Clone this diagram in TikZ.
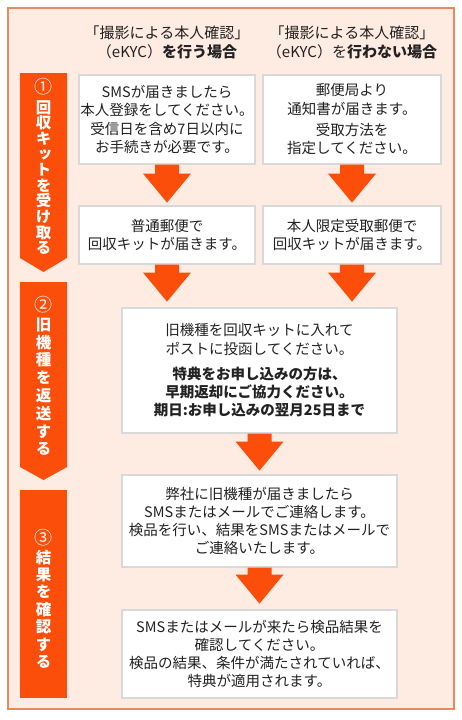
\documentclass[tikz,border=0pt]{standalone}
\usepackage{fontspec}
\usetikzlibrary{calc}
\setmainfont{Noto Sans CJK JP}
\newfontfamily\barfont{Noto Sans CJK JP}[RawFeature={+vert}]
\definecolor{accent}{HTML}{FA4E0A}
\definecolor{framec}{HTML}{E98A5E}
\definecolor{framebg}{HTML}{FEEBE2}
\definecolor{boxgray}{HTML}{D9D9D9}
\definecolor{txt}{HTML}{222222}
\newcommand\bodyfont{\fontsize{14.5}{18.3}\selectfont}
\newcommand\headfont{\fontsize{15}{19}\selectfont}
\newcommand\stepnum[1]{{\mdseries\fontsize{18}{18}\selectfont #1}}
\newcommand\blockarrow[2]{%
  \fill[accent] ($(#1)+(-12,0)$) -- ($(#1)+(12,0)$) -- ($(#2)+(12,-29)$) -- ($(#2)+(24,-29)$)
    -- (#2) -- ($(#2)+(-24,-29)$) -- ($(#2)+(-12,-29)$) -- cycle;}
\begin{document}
\begin{tikzpicture}[x=1pt,y=-1pt,
  box/.style={draw=boxgray, line width=1.2pt, fill=white, inner sep=0pt, align=center, text=txt, font=\bodyfont},
  head/.style={inner sep=0pt, align=center, text=txt, font=\headfont},
  bartext/.style={inner sep=0pt, align=center, text=white, font=\barfont\bfseries\fontsize{15.5}{#1}\selectfont},
  stepbar/.style={fill=accent}]
\useasboundingbox (0,0) rectangle (462,720);
\fill[white] (0,0) rectangle (462,720);
\draw[framec, line width=2pt, fill=framebg] (8,8) rectangle (454,709);

% headers
\node[head] (h1) at (167,42.5) {「撮影による本人確認」\\（eKYC）\textbf{を行う場合}};
\node[head] (h2) at (352,42.5) {「撮影による本人確認」\\（eKYC）を\textbf{行わない場合}};

% step bars
\fill[stepbar] (20,73) -- (67,73) -- (67,258) -- (43.5,272) -- (20,258) -- cycle;
\fill[stepbar] (20,282) -- (67,282) -- (67,467) -- (43.5,480) -- (20,467) -- cycle;
\fill[stepbar] (20,490) rectangle (67,698);
\node[bartext=15.6pt] (s1) at (43.5,166.5) {\stepnum{①}\\[4pt]回\\収\\キ\\ッ\\ト\\を\\受\\け\\取\\る};
\node[bartext=17.8pt] (s2) at (43.5,376) {\stepnum{②}\\[1pt]旧\\機\\種\\を\\返\\送\\す\\る};
\node[bartext=17.4pt] (s3) at (43.5,599) {\stepnum{③}\\[1pt]結\\果\\を\\確\\認\\す\\る};

% boxes
\node[box, minimum width=176pt, minimum height=89pt] (A) at (167,119.5)
  {SMSが届きましたら\\本人登録をしてください。\\受信日を含め7日以内に\\お手続きが必要です。};
\node[box, minimum width=178pt, minimum height=89pt] (B) at (352,119.5)
  {郵便局より\\通知書が届きます。\\[3pt]受取方法を\\指定してください。};
\node[box, minimum width=176pt, minimum height=58pt] (C) at (167,235)
  {普通郵便で\\回収キットが届きます。};
\node[box, minimum width=178pt, minimum height=58pt] (D) at (352,235)
  {本人限定受取郵便で\\回収キットが届きます。};
\node[box, minimum width=275pt, minimum height=125pt] (E) at (259.5,370.5)
  {旧機種を回収キットに入れて\\ポストに投函してください。\\[7pt]\textbf{特典をお申し込みの方は、}\\\textbf{早期返却にご協力ください。}\\\textbf{期日:お申し込みの翌月25日まで}};
\node[box, minimum width=275pt, minimum height=92pt] (F) at (259.5,521)
  {弊社に旧機種が届きましたら\\SMSまたはメールでご連絡します。\\検品を行い、結果をSMSまたはメールで\\ご連絡いたします。};
\node[box, minimum width=275pt, minimum height=88pt] (G) at (259.5,654)
  {SMSまたはメールが来たら検品結果を\\確認してください。\\検品の結果、条件が満たされていれば、\\特典が適用されます。};

% arrows
\coordinate (tA) at ($(A.south)+(0,38)$);
\coordinate (tB) at ($(B.south)+(0,38)$);
\coordinate (tC) at ($(C.south)+(0,37)$);
\coordinate (tD) at ($(D.south)+(0,37)$);
\coordinate (tE) at ($(E.south)+(0,37)$);
\coordinate (tF) at ($(F.south)+(0,36)$);
\blockarrow{A.south}{tA}
\blockarrow{B.south}{tB}
\blockarrow{C.south}{tC}
\blockarrow{D.south}{tD}
\blockarrow{E.south}{tE}
\blockarrow{F.south}{tF}
\end{tikzpicture}
\end{document}
